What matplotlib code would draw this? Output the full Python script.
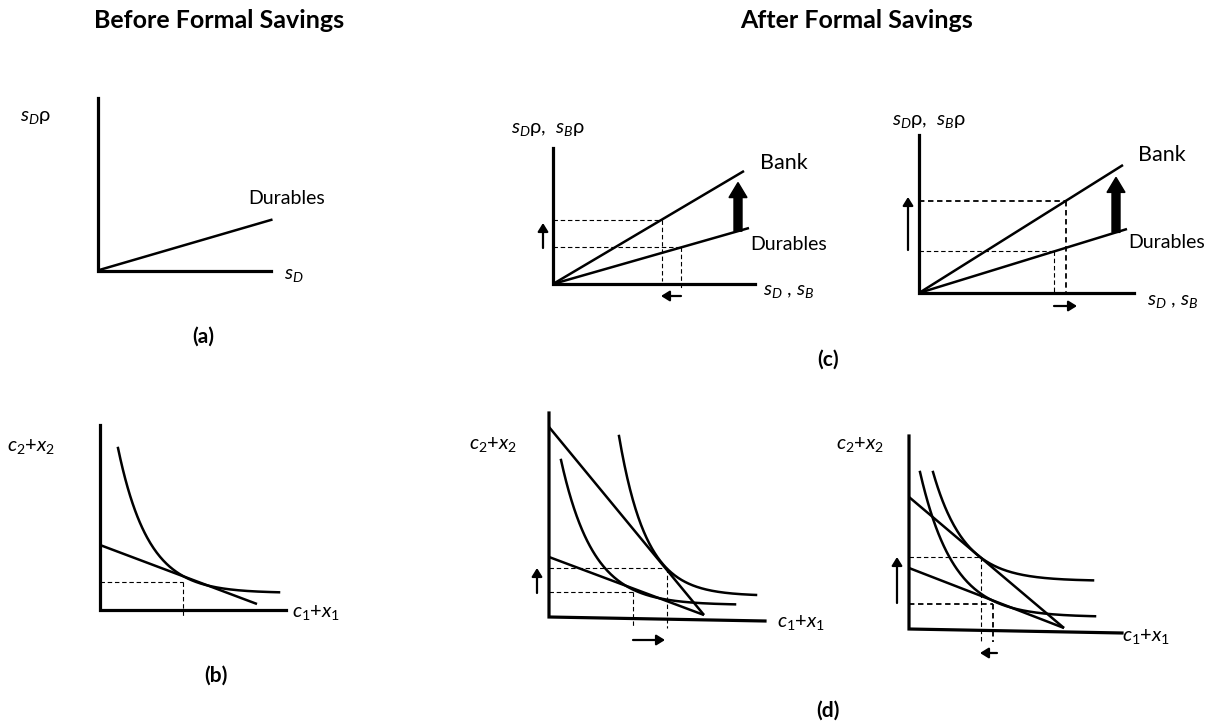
import numpy as np
import matplotlib
matplotlib.use("Agg")
import matplotlib.pyplot as plt
from matplotlib.transforms import Affine2D
from matplotlib.patches import FancyArrowPatch, FancyArrow

plt.rcParams["font.family"] = ["Lato", "DejaVu Sans"]
plt.rcParams["mathtext.fontset"] = "custom"
plt.rcParams["mathtext.rm"] = "Lato"
plt.rcParams["mathtext.it"] = "Lato:italic"
plt.rcParams["mathtext.bf"] = "Lato:bold"

# ---------------------------------------------------------------
# Geometry of each schematic panel, in units measured from the
# panel origin (x to the right, y upwards).
# ---------------------------------------------------------------

# panel origins on the page
origin_a = (97.5, 270.5)
origin_c1 = (553, 284)
origin_c2 = (919, 293)
origin_b = (100, 610)
origin_d1 = (549, 617)
origin_d2 = (909, 629)

# (a) durables return before formal savings
a_x_axis = (173, 0)
a_y_axis = 173
a_durables = (175, 51)

# (c) left: bank vs durables, saving shifts away from durables
c1_x_axis = (202, 0)
c1_y_axis = 136
c1_bank = (191, 113)
c1_durables = (196, 56)
c1_s_bank, c1_s_dur = 109, 128
c1_shift_x = 185
c1_up = (-10, 36, 61)
c1_side = (-12, 128, 108)

# (c) right: bank vs durables, saving shifts towards more
c2_x_axis = (215, 0)
c2_y_axis = 158
c2_bank = (204, 128)
c2_durables = (208, 64)
c2_s_dur, c2_s_bank = 135, 147
c2_shift_x = 197
c2_up = (-11, 43, 96)
c2_side = (-13, 135, 158)

# (b) intertemporal choice before formal savings
b_x_axis = (186, 0)
b_y_axis = 185
b_budget = [(0, 65), (157, 6)]
# indifference curve: x_start, x_end, floor, amplitude, decay
b_ic = (18, 179, 17, 145, 30.3)
b_choice = (83, 28)
b_drop = -7

# (d) left
d1_x_axis = (216, -4)
d1_y_axis = 204
d1_budget_steep = [(0, 190), (155, 2)]
d1_budget_flat = [(0, 60), (155, 2)]
d1_ic_low = (12, 186, 12, 145, 32.1)
d1_ic_high = (70, 207, 21, 160, 27.2)
d1_choice_high = (118, 49)
d1_choice_low = (84, 25)
d1_drop = -11
d1_up = (-12, 24, 49)
d1_side = (-23, 84, 116)

# (d) right
d2_x_axis = (213, -4)
d2_y_axis = 193
d2_budget_steep = [(0, 132), (155, 1)]
d2_budget_flat = [(0, 61), (155, 1)]
d2_ic_low = (11, 186, 12, 145, 33.3)
d2_ic_high = (24, 184, 48, 109, 31.1)
d2_choice_high = (72, 72)
d2_choice_low = (84, 25)
d2_drop = -13
d2_up = (-12, 26, 72)
d2_side = (-24, 88, 71)

# ---------------------------------------------------------------
W, H = 1215, 723
fig = plt.figure(figsize=(W / 100, H / 100), dpi=100)
ax = fig.add_axes([0, 0, 1, 1])
ax.set_xlim(0, W)
ax.set_ylim(H, 0)
ax.axis("off")

AXIS_LW = 2.3
LINE_LW = 1.8
DASH_LW = 0.8


def frame(origin):
    ox, oy = origin
    return Affine2D().scale(1, -1).translate(ox, oy) + ax.transData


def draw_axes(tr, x_axis, y_len):
    ax.plot([0, 0, x_axis[0]], [y_len, 0, x_axis[1]], color="black",
            lw=AXIS_LW, solid_capstyle="projecting",
            solid_joinstyle="miter", transform=tr)


def ray(tr, end, lw=LINE_LW):
    ax.plot([0, end[0]], [0, end[1]], color="black", lw=lw,
            solid_capstyle="butt", transform=tr)


def segment(tr, pts, lw=LINE_LW):
    xs, ys = zip(*pts)
    ax.plot(xs, ys, color="black", lw=lw, solid_capstyle="butt",
            transform=tr)


def indifference(tr, params):
    x0, x1, floor, amp, tau = params
    x = np.linspace(x0, x1, 200)
    y = floor + amp * np.exp(-(x - x0) / tau)
    ax.plot(x, y, color="black", lw=LINE_LW, transform=tr)


def guide(tr, pt, bottom, lw=DASH_LW, dashes=(4, 2.5)):
    x, y = pt
    ax.plot([0, x], [y, y], color="black", lw=lw, dashes=dashes,
            transform=tr)
    ax.plot([x, x], [y, bottom], color="black", lw=lw, dashes=dashes,
            transform=tr)


def small_arrow(tr, start, end, lw=1.6):
    ax.add_patch(FancyArrowPatch(start, end, transform=tr,
                                 arrowstyle="-|>,head_length=0.45,head_width=0.28",
                                 mutation_scale=11, lw=lw, color="black",
                                 shrinkA=0, shrinkB=0))


def up_arrow(tr, spec):
    x, y0, y1 = spec
    small_arrow(tr, (x, y0), (x, y1))


def side_arrow(tr, spec):
    y, x0, x1 = spec
    small_arrow(tr, (x0, y), (x1, y))


def big_arrow(tr, x, y0, y1):
    ax.add_patch(FancyArrow(x, y0, 0, y1 - y0, width=8, head_width=18,
                            head_length=15, length_includes_head=True,
                            color="black", transform=tr))


def on_ray(end, x):
    return x * end[1] / end[0]


LABEL = 14
MATH = 14.5
TAG = 15
TITLE = 18

# titles
ax.text(219, 21, "Before Formal Savings", ha="center", va="center",
        fontsize=TITLE, fontweight="bold")
ax.text(857, 21, "After Formal Savings", ha="center", va="center",
        fontsize=TITLE, fontweight="bold")

# ---------------- panel (a)
tr = frame(origin_a)
draw_axes(tr, a_x_axis, a_y_axis)
ray(tr, a_durables)
ax.text(20, 117, r"$s_D$ρ", ha="left", va="center", fontsize=MATH)
ax.text(248, 198, "Durables", ha="left", va="center", fontsize=LABEL)
ax.text(284, 275, r"$s_D$", ha="left", va="center", fontsize=MATH)
ax.text(203, 337, "(a)", ha="center", va="center", fontsize=TAG,
        fontweight="bold")

# ---------------- panel (c) left
tr = frame(origin_c1)
draw_axes(tr, c1_x_axis, c1_y_axis)
ray(tr, c1_bank)
ray(tr, c1_durables)
yb = on_ray(c1_bank, c1_s_bank)
yd = on_ray(c1_durables, c1_s_dur)
guide(tr, (c1_s_bank, yb), 3)
guide(tr, (c1_s_dur, yd), -6)
big_arrow(tr, c1_shift_x, on_ray(c1_durables, c1_shift_x),
          on_ray(c1_bank, c1_shift_x) - 8)
up_arrow(tr, c1_up)
side_arrow(tr, c1_side)
ax.text(511, 129, r"$s_D$ρ,  $s_B$ρ", ha="left", va="center", fontsize=MATH)
ax.text(760, 163, "Bank", ha="left", va="center", fontsize=LABEL + 1.5)
ax.text(750, 244, "Durables", ha="left", va="center", fontsize=LABEL)
ax.text(763, 292, r"$s_D$ , $s_B$", ha="left", va="center", fontsize=MATH)

# ---------------- panel (c) right
tr = frame(origin_c2)
draw_axes(tr, c2_x_axis, c2_y_axis)
ray(tr, c2_bank)
ray(tr, c2_durables)
yd = on_ray(c2_durables, c2_s_dur)
yb = on_ray(c2_bank, c2_s_bank)
guide(tr, (c2_s_dur, yd), 0)
guide(tr, (c2_s_bank, yb), 0, lw=1.3, dashes=(3, 2))
big_arrow(tr, c2_shift_x, on_ray(c2_durables, c2_shift_x),
          on_ray(c2_bank, c2_shift_x) - 8)
up_arrow(tr, c2_up)
side_arrow(tr, c2_side)
ax.text(892, 122, r"$s_D$ρ,  $s_B$ρ", ha="left", va="center", fontsize=MATH)
ax.text(1138, 155, "Bank", ha="left", va="center", fontsize=LABEL + 1.5)
ax.text(1128, 243, "Durables", ha="left", va="center", fontsize=LABEL)
ax.text(1147, 302, r"$s_D$ , $s_B$", ha="left", va="center", fontsize=MATH)

ax.text(828, 360, "(c)", ha="center", va="center", fontsize=TAG,
        fontweight="bold")

# ---------------- panel (b)
tr = frame(origin_b)
draw_axes(tr, b_x_axis, b_y_axis)
segment(tr, b_budget)
indifference(tr, b_ic)
guide(tr, b_choice, b_drop)
ax.text(7, 446, r"$c_\mathit{2}$+$x_\mathit{2}$", ha="left", va="center",
        fontsize=MATH)
ax.text(292, 612, r"$c_\mathit{1}$+$x_\mathit{1}$", ha="left", va="center",
        fontsize=MATH)
ax.text(216, 676, "(b)", ha="center", va="center", fontsize=TAG,
        fontweight="bold")

# ---------------- panel (d) left
tr = frame(origin_d1)
draw_axes(tr, d1_x_axis, d1_y_axis)
segment(tr, d1_budget_steep)
segment(tr, d1_budget_flat)
indifference(tr, d1_ic_low)
indifference(tr, d1_ic_high)
guide(tr, d1_choice_high, d1_drop)
guide(tr, d1_choice_low, d1_drop)
up_arrow(tr, d1_up)
side_arrow(tr, d1_side)
ax.text(469, 445, r"$c_\mathit{2}$+$x_\mathit{2}$", ha="left", va="center",
        fontsize=MATH)
ax.text(777, 622, r"$c_\mathit{1}$+$x_\mathit{1}$", ha="left", va="center",
        fontsize=MATH)

# ---------------- panel (d) right
tr = frame(origin_d2)
draw_axes(tr, d2_x_axis, d2_y_axis)
segment(tr, d2_budget_steep)
segment(tr, d2_budget_flat)
indifference(tr, d2_ic_low)
indifference(tr, d2_ic_high)
guide(tr, d2_choice_high, d2_drop)
guide(tr, d2_choice_low, d2_drop, lw=1.3, dashes=(3, 2))
up_arrow(tr, d2_up)
side_arrow(tr, d2_side)
ax.text(836, 445, r"$c_\mathit{2}$+$x_\mathit{2}$", ha="left", va="center",
        fontsize=MATH)
ax.text(1122, 637, r"$c_\mathit{1}$+$x_\mathit{1}$", ha="left", va="center",
        fontsize=MATH)

ax.text(828, 711, "(d)", ha="center", va="center", fontsize=TAG,
        fontweight="bold")

fig.savefig("out.png", dpi=100, facecolor="white")
